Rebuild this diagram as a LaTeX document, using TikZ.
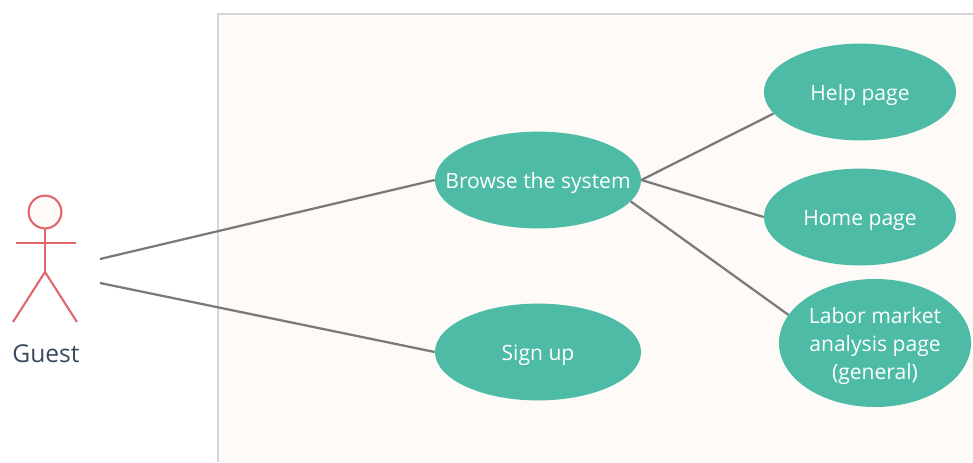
\documentclass[tikz,border=0pt]{standalone}
\usepackage{fontspec}
\setmainfont{Open Sans}
\usetikzlibrary{shapes.geometric}
\definecolor{usecasegreen}{HTML}{4DBBA5}
\definecolor{actorred}{HTML}{E0686C}
\definecolor{boxfill}{HTML}{FDFAF8}
\definecolor{boxline}{HTML}{D4D4D6}
\definecolor{linkgray}{HTML}{7A7A78}
\definecolor{guesttext}{HTML}{3A4A5E}
\tikzstyle{usecase}=[ellipse, fill=usecasegreen, text=white, inner sep=0pt, minimum width=5.15cm, minimum height=2.42cm, font=\fontsize{15}{20}\selectfont, align=center, text height=12pt, text depth=0pt]
\tikzstyle{link}=[draw=linkgray, line width=1.6pt]
\tikzstyle{actorline}=[draw=actorred, line width=1.5pt]
\begin{document}
\begin{tikzpicture}[x=0.025cm, y=-0.025cm]
    \useasboundingbox (0,0) rectangle (973,462);
    \path[fill=boxfill] (218,14) rectangle (973,462);
    \draw[boxline, line width=1pt] (218,462) -- (218,14) -- (973,14);

    \node[usecase] (browse) at (538,180) {\makebox[0pt]{Browse the system}};
    \node[usecase] (signup) at (538,352) {Sign up};
    \node[usecase, minimum width=4.8cm] (help) at (860,92) {Help page};
    \node[usecase, minimum width=4.8cm] (home) at (860,217) {Home page};
    \node[usecase, minimum width=4.8cm, minimum height=3.2cm, text height=52pt] (labor) at (875,343) {Labor market\\analysis page\\(general)};

    % actor
    \node[circle, actorline, fill=boxfill, inner sep=0pt, minimum size=0.82cm] (head) at (45,212) {};
    \coordinate (hip) at (45,272);
    \coordinate (armL) at (16,243);
    \coordinate (armR) at (76,243);
    \coordinate (footL) at (13,322);
    \coordinate (footR) at (77,322);
    \draw[actorline] (head) -- (hip);
    \draw[actorline] (armL) -- (armR);
    \draw[actorline] (footL) -- (hip) -- (footR);
    \node[text=guesttext, font=\fontsize{17.5}{20}\selectfont] (guest) at (46,354) {Guest};

    \coordinate (guestA) at (100,259);
    \coordinate (guestB) at (100,283);
    \path
        (guestA) edge[link] (browse.west)
        (guestB) edge[link] (signup.west)
        (browse.east) edge[link] (help.194)
        (browse.east) edge[link] (home.west)
        (browse.-13) edge[link] (labor.162)
    ;
\end{tikzpicture}
\end{document}
